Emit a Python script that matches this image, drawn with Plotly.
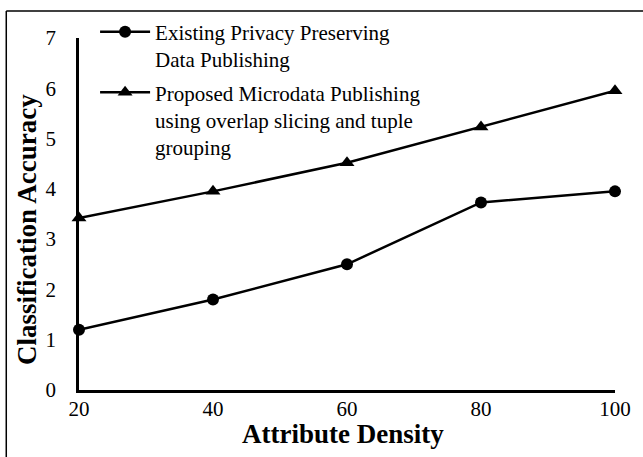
import plotly.graph_objects as go

# Attribute density (x) and classification accuracy for both methods
density = [20, 40, 60, 80, 100]
existing_acc = [1.2, 1.8, 2.5, 3.73, 3.95]
proposed_acc = [3.42, 3.95, 4.52, 5.23, 5.95]

x_ticks = [20, 40, 60, 80, 100]
y_ticks = [0, 1, 2, 3, 4, 5, 6, 7]

FONT = "Liberation Serif, Times New Roman, serif"

W, H = 643, 457
ML, MR, MT, MB = 79, 26, 32, 67
PW, PH = W - ML - MR, H - MT - MB

fig = go.Figure()
fig.add_trace(go.Scatter(
    x=density, y=existing_acc, mode="lines+markers",
    name="Existing Privacy Preserving<br>Data Publishing",
    legendgroup="existing",
    line=dict(color="black", width=2.5),
    marker=dict(symbol="circle", size=12, color="black"),
    cliponaxis=False,
))
fig.add_trace(go.Scatter(
    x=density, y=proposed_acc, mode="lines+markers",
    name="Proposed Microdata Publishing<br>using overlap slicing and tuple<br>grouping",
    legendgroup="proposed",
    line=dict(color="black", width=2.5),
    marker=dict(symbol="triangle-up", size=13, color="black"),
    cliponaxis=False,
))

# frame along the top and left edges of the figure
bx = (6 - ML) / PW
by = 1 + (MT - 4.5) / PH
fig.add_shape(type="line", xref="paper", yref="paper", x0=bx, x1=1.2, y0=by, y1=by,
              line=dict(color="black", width=1.5))
fig.add_shape(type="line", xref="paper", yref="paper", x0=bx, x1=bx, y0=by, y1=-0.3,
              line=dict(color="black", width=1.5))

# axis titles
fig.add_annotation(
    text="<b>Attribute Density</b>", xref="paper", yref="paper",
    x=(344 - ML) / PW, y=-(435 - (MT + PH)) / PH, xanchor="center", yanchor="middle",
    showarrow=False, font=dict(family=FONT, size=27, color="black"),
)
fig.add_annotation(
    text="<b>Classification Accuracy</b>", xref="paper", yref="paper", textangle=-90,
    x=(27 - ML) / PW, y=1 - (227 - MT) / PH, xanchor="center", yanchor="middle",
    showarrow=False, font=dict(family=FONT, size=27, color="black"),
)

fig.update_layout(
    width=W, height=H,
    margin=dict(l=ML, r=MR, t=MT, b=MB),
    paper_bgcolor="white", plot_bgcolor="white",
    font=dict(family=FONT, color="black", size=21),
    showlegend=True,
    legend=dict(
        x=0.03, y=1.075, xanchor="left", yanchor="top",
        bgcolor="rgba(0,0,0,0)", font=dict(family=FONT, size=21, color="black"),
        itemwidth=50, tracegroupgap=3, valign="top",
    ),
    xaxis=dict(
        range=[20, 100], tickvals=x_ticks, ticktext=[str(v) for v in x_ticks],
        showgrid=False, zeroline=False, showline=True, linecolor="black", linewidth=2.5,
        ticks="", ticklabelstandoff=-2, tickfont=dict(family=FONT, size=21, color="black"),
    ),
    yaxis=dict(
        range=[0, 7], tickvals=y_ticks, ticktext=[str(v) for v in y_ticks],
        showgrid=False, zeroline=False, showline=True, linecolor="black", linewidth=2.5,
        ticks="", ticklabelstandoff=16,
        tickfont=dict(family=FONT, size=21, color="black"),
    ),
)

fig.write_html("out.html")
